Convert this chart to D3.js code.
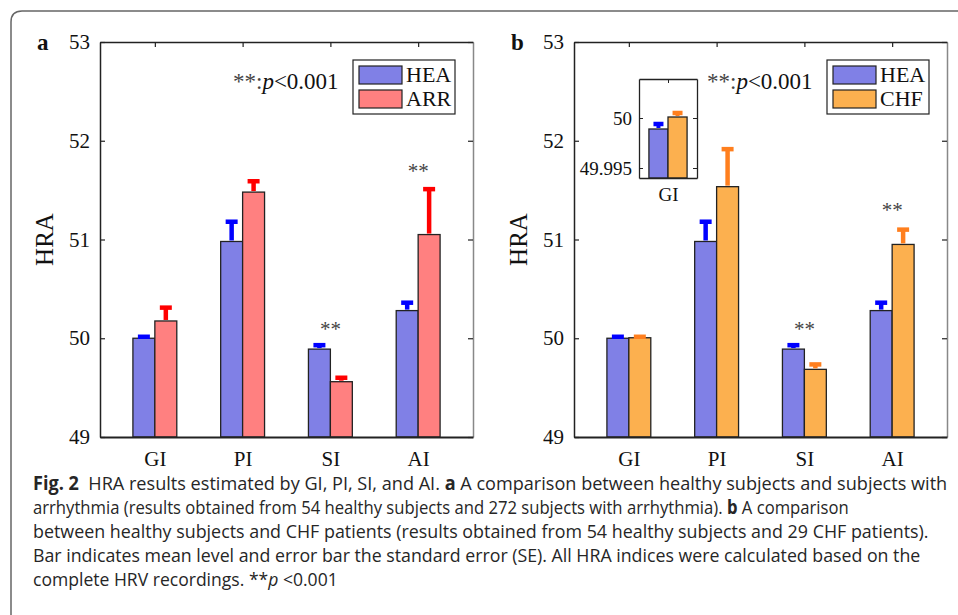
<!DOCTYPE html>
<html>
<head>
<meta charset="utf-8">
<script src="https://cdn.jsdelivr.net/npm/d3@7"></script>
<style>
  body { margin: 0; background: #fff; }
  svg { display: block; }
</style>
</head>
<body>
<div id="chart"></div>
<script>
// data
var categories = ["GI", "PI", "SI", "AI"];
var yTicks = [49, 50, 51, 52, 53];

var heaMean = [50.00, 50.98, 49.89, 50.28];
var heaSE   = [0.015, 0.20, 0.04, 0.08];

var arrMean = [50.175, 51.48, 49.56, 51.05];
var arrSE   = [0.135, 0.11, 0.04, 0.46];

var chfMean = [50.005, 51.535, 49.685, 50.95];
var chfSE   = [0.01, 0.38, 0.05, 0.15];

// inset of panel b (GI only, zoomed)
var insetCategory = ["GI"];
var insetTicks = [49.995, 50];
var insetHeaMean = [49.9989];
var insetHeaSE   = [0.0005];
var insetChfMean = [50.0001];
var insetChfSE   = [0.0004];

// "**" marks: category and height of the mark
var sigA = [["SI", 50.12], ["AI", 51.72]];
var sigB = [["SI", 50.12], ["AI", 51.33]];

var captionLines = [
  [["b", "Fig. 2"], ["n", "  HRA results estimated by GI, PI, SI, and AI. "], ["b", "a"], ["n", " A comparison between healthy subjects and subjects with"]],
  [["n", "arrhythmia (results obtained from 54 healthy subjects and 272 subjects with arrhythmia). "], ["b", "b"], ["n", " A comparison"]],
  [["n", "between healthy subjects and CHF patients (results obtained from 54 healthy subjects and 29 CHF patients)."]],
  [["n", "Bar indicates mean level and error bar the standard error (SE). All HRA indices were calculated based on the"]],
  [["n", "complete HRV recordings. **"], ["i", "p"], ["n", " <0.001"]]
];
var captionEnds = [948, 849, 929, 921, 338];

var W = 958, H = 615;
var serif = "'Liberation Serif', 'Times New Roman', serif";

var svg = d3.select("#chart").append("svg")
  .attr("width", W).attr("height", H);

// rounded frame round the figure
svg.append("path")
  .attr("d", "M11," + (H + 5) + " L11,22 Q11,11 22,11 L" + (W + 5) + ",11")
  .attr("fill", "none")
  .attr("stroke", "#666")
  .attr("stroke-width", 1.5);

function drawBars(g, x, y, groups, base, capW, sw) {
  groups.forEach(function(s) {
    g.selectAll(null)
      .data(s.mean)
      .enter()
      .append("rect")
        .attr("x", function(d, i) { return x(i + 1 + s.off - 0.125); })
        .attr("y", function(d) { return y(d); })
        .attr("width", x(0.25) - x(0))
        .attr("height", function(d) { return base - y(d); })
        .attr("fill", s.fill)
        .attr("stroke", "#222")
        .attr("stroke-width", 1.3);
  });

  // upper half of the error bars only
  groups.forEach(function(s) {
    s.mean.forEach(function(m, i) {
      var cx = x(i + 1 + s.off);
      var yt = y(m + s.se[i]);
      g.append("line")
        .attr("x1", cx).attr("x2", cx)
        .attr("y1", y(m) - 1).attr("y2", yt)
        .attr("stroke", s.err).attr("stroke-width", sw);
      g.append("line")
        .attr("x1", cx - capW).attr("x2", cx + capW)
        .attr("y1", yt).attr("y2", yt)
        .attr("stroke", s.err).attr("stroke-width", 4.5);
    });
  });
}

function drawPanel(x0, letter, series2, color2, err2, label2, sig) {
  var left = x0, right = x0 + 373, top = 42, bottom = 437;

  var x = d3.scaleLinear().domain([0.375, 4.625]).range([left, right]);
  var y = d3.scaleLinear().domain([49, 53]).range([bottom, top]);
  var g = svg.append("g");

  var groups = [
    {mean: heaMean, se: heaSE, fill: "#8080e6", err: "#0000ff", off: -0.125},
    {mean: series2.mean, se: series2.se, fill: color2, err: err2, off: 0.125}
  ];
  drawBars(g, x, y, groups, bottom, 6, 4.5);

  // axes box
  var yAxisL = d3.axisLeft(y).tickValues(yTicks).tickSizeInner(-5).tickSizeOuter(0).tickPadding(10).tickFormat(d3.format("d"));
  var yAxisR = d3.axisRight(y).tickValues(yTicks).tickSizeInner(-5).tickSizeOuter(0).tickFormat("");
  var xAxisT = d3.axisTop(x).tickValues([1, 2, 3, 4]).tickSizeInner(-5).tickSizeOuter(0).tickFormat("");
  var xAxisB = d3.axisBottom(x).tickValues([1, 2, 3, 4]).tickSize(0).tickPadding(14)
    .tickFormat(function(d) { return categories[d - 1]; });

  var al = g.append("g").attr("transform", "translate(" + left + ",0)").call(yAxisL);
  var ar = g.append("g").attr("transform", "translate(" + right + ",0)").call(yAxisR);
  var at = g.append("g").attr("transform", "translate(0," + top + ")").call(xAxisT);
  var ab = g.append("g").attr("transform", "translate(0," + bottom + ")").call(xAxisB);

  [al, ar, at, ab].forEach(function(a) {
    a.select(".domain").attr("stroke", "#222").attr("stroke-width", 1.5);
    a.selectAll(".tick line").attr("stroke", "#222").attr("stroke-width", 1.2);
    a.selectAll("text").attr("font-family", serif).attr("font-size", 21).attr("fill", "#111");
  });
  ar.select(".domain").attr("stroke", "#888");
  ab.select(".domain").attr("stroke-width", 2.2);

  // y label
  g.append("text")
    .attr("transform", "translate(" + (x0 - 47) + "," + ((top + bottom) / 2) + ") rotate(-90)")
    .attr("text-anchor", "middle")
    .attr("font-family", serif).attr("font-size", 25).attr("fill", "#111")
    .text("HRA");

  // panel letter
  g.append("text")
    .attr("x", x0 - 63).attr("y", 50)
    .attr("font-family", serif).attr("font-size", 23).attr("font-weight", "bold").attr("fill", "#111")
    .text(letter);

  // significance marks
  g.selectAll(null)
    .data(sig)
    .enter()
    .append("text")
      .attr("x", function(d) { return x(categories.indexOf(d[0]) + 1); })
      .attr("y", function(d) { return y(d[1]) + 10; })
      .attr("text-anchor", "middle")
      .attr("font-family", serif).attr("font-size", 21).attr("fill", "#444")
      .text("**");

  // p-value note
  var note = g.append("text")
    .attr("x", x0 + 133).attr("y", 89)
    .attr("font-family", serif).attr("font-size", 23).attr("fill", "#111");
  note.append("tspan").attr("fill", "#444").text("**:");
  note.append("tspan").attr("font-style", "italic").text("p");
  note.append("tspan").text("<0.001");

  // legend
  var lx = right - 120, ly = 60;
  g.append("rect").attr("x", lx).attr("y", ly).attr("width", 102).attr("height", 54)
    .attr("fill", "#fff").attr("stroke", "#222").attr("stroke-width", 1.2);
  var legendItems = [["HEA", "#8080e6"], [label2, color2]];
  legendItems.forEach(function(it, k) {
    g.append("rect")
      .attr("x", lx + 6).attr("y", ly + 6 + k * 24)
      .attr("width", 43).attr("height", 18)
      .attr("fill", it[1]).attr("stroke", "#222").attr("stroke-width", 1.2);
    g.append("text")
      .attr("x", lx + 53).attr("y", ly + 22 + k * 24)
      .attr("font-family", serif).attr("font-size", 22).attr("fill", "#111")
      .text(it[0]);
  });
}

drawPanel(100, "a", {mean: arrMean, se: arrSE}, "#ff8080", "#ff0000", "ARR", sigA);
drawPanel(574, "b", {mean: chfMean, se: chfSE}, "#fcb04f", "#ff7f1e", "CHF", sigB);

// inset in panel b
(function() {
  var left = 639, right = 697, top = 79, bottom = 178;
  var x = d3.scaleLinear().domain([0.62, 1.38]).range([left, right]);
  var y = d3.scaleLinear().domain([49.9940, 50.0039]).range([bottom, top]);
  var g = svg.append("g");

  g.append("rect").attr("x", left).attr("y", top).attr("width", right - left).attr("height", bottom - top)
    .attr("fill", "#fff");

  var groups = [
    {mean: insetHeaMean, se: insetHeaSE, fill: "#8080e6", err: "#0000ff", off: -0.125},
    {mean: insetChfMean, se: insetChfSE, fill: "#fcb04f", err: "#ff7f1e", off: 0.125}
  ];
  drawBars(g, x, y, groups, bottom, 5, 4);

  var al = g.append("g").attr("transform", "translate(" + left + ",0)")
    .call(d3.axisLeft(y).tickValues(insetTicks).tickSizeInner(-4).tickSizeOuter(0).tickPadding(7)
      .tickFormat(function(d) { return d === 50 ? "50" : "49.995"; }));
  var ar = g.append("g").attr("transform", "translate(" + right + ",0)")
    .call(d3.axisRight(y).tickValues(insetTicks).tickSizeInner(-4).tickSizeOuter(0).tickFormat(""));
  var at = g.append("g").attr("transform", "translate(0," + top + ")")
    .call(d3.axisTop(x).tickValues([1]).tickSizeInner(-4).tickSizeOuter(0).tickFormat(""));
  var ab = g.append("g").attr("transform", "translate(0," + bottom + ")")
    .call(d3.axisBottom(x).tickValues([1]).tickSize(0).tickPadding(10)
      .tickFormat(function(d) { return insetCategory[d - 1]; }));
  [al, ar, at, ab].forEach(function(a) {
    a.select(".domain").attr("stroke", "#222").attr("stroke-width", 1.3);
    a.selectAll(".tick line").attr("stroke", "#222");
    a.selectAll("text").attr("font-family", serif).attr("font-size", 19).attr("fill", "#111");
  });
})();

// caption: condensed face faked by squeezing each line to its width in the figure
var cap = svg.append("g");
captionLines.forEach(function(line, k) {
  var holder = cap.append("g");
  var t = holder.append("text")
    .attr("x", 0).attr("y", 0)
    .attr("font-family", "'Open Sans', sans-serif")
    .attr("font-size", 19)
    .attr("fill", "#262626")
    .attr("xml:space", "preserve");
  line.forEach(function(p) {
    var s = t.append("tspan").text(p[1]);
    if (p[0] === "b") s.attr("font-weight", "bold");
    if (p[0] === "i") s.attr("font-style", "italic");
  });
  var natural = t.node().getComputedTextLength();
  var sx = (captionEnds[k] - 33) / natural;
  holder.attr("transform", "translate(33," + (490 + k * 24) + ") scale(" + sx + ",1)");
});
</script>
</body>
</html>
